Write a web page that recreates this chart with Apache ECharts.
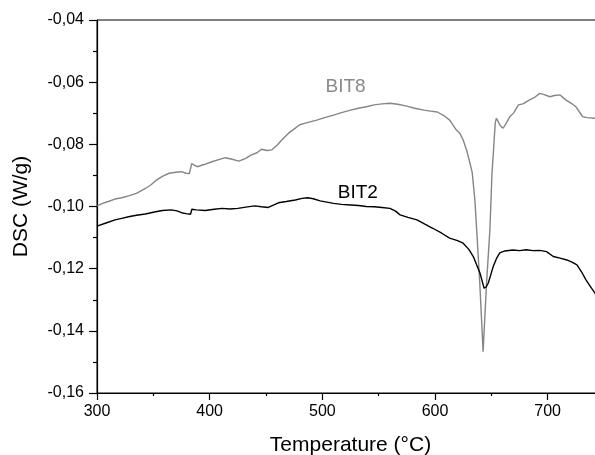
<!DOCTYPE html>
<html>
<head>
<meta charset="utf-8">
<script src="https://cdn.jsdelivr.net/npm/echarts@6/dist/echarts.min.js"></script>
<style>
html,body{margin:0;padding:0;background:#fff;}
#chart{width:595px;height:455px;}
</style>
</head>
<body>
<div id="chart"></div>
<script>
// ---- data ----
const bit8Temp = [300,305,310,316,322,328,335,343,348,352,358,364,370,375,379,382,384,386,389,395,402,408,414,420,426,432,437,442,446,451,455,460,464,470,476,480,485,490,495,502,510,517,525,532,539,546,553,560,567,575,582,590,596,602,608,613,619,622,625,628,631,633,635.4,637,639.8,642.7,645.7,648.7,650.5,652.5,653.5,654.5,656,658,660.4,662,664,666.4,670,674,678,684,688,693,697,702,706,711,716,721,725,729,731,735,742,750];
const bit8Dsc = [-0.0998,-0.0990,-0.0984,-0.0976,-0.0972,-0.0966,-0.0958,-0.0942,-0.0930,-0.0917,-0.0903,-0.0893,-0.0890,-0.0888,-0.0893,-0.0894,-0.0862,-0.0866,-0.0872,-0.0865,-0.0856,-0.0849,-0.0843,-0.0848,-0.0854,-0.0845,-0.0834,-0.0827,-0.0816,-0.0820,-0.0818,-0.0802,-0.0786,-0.0764,-0.0748,-0.0737,-0.0732,-0.0727,-0.0722,-0.0714,-0.0706,-0.0698,-0.0690,-0.0684,-0.0679,-0.0673,-0.0670,-0.0668,-0.0671,-0.0677,-0.0684,-0.0690,-0.0693,-0.0696,-0.0708,-0.0722,-0.0754,-0.0764,-0.0786,-0.0818,-0.0860,-0.0890,-0.0979,-0.1076,-0.1250,-0.1467,-0.1250,-0.1076,-0.0900,-0.0786,-0.0730,-0.0716,-0.0722,-0.0740,-0.0748,-0.0740,-0.0727,-0.0711,-0.0698,-0.0673,-0.0670,-0.0657,-0.0650,-0.0636,-0.0640,-0.0647,-0.0643,-0.0641,-0.0657,-0.0668,-0.0679,-0.0700,-0.0711,-0.0714,-0.0716,-0.0716];

const bit2Temp = [300,308,316,322,328,335,343,348,352,358,366,371,375,379,383,384.2,388,396,404,411,418,425,432,440,446,452,457,461,468,476,482,487,492,498,504,510,517,525,532,539,546,553,560,565,569,576,584,591,598,606,613,620,625,630,634,637,640,643.6,645.5,647.2,649.5,651.6,654.5,657.5,662,669,675,681,687,693,699,705,711,717,722,726,730,734,738,742,750];
const bit2Dsc = [-0.1063,-0.1053,-0.1043,-0.1038,-0.1033,-0.1028,-0.1024,-0.1020,-0.1017,-0.1013,-0.1011,-0.1014,-0.1020,-0.1023,-0.1025,-0.1009,-0.1011,-0.1013,-0.1009,-0.1006,-0.1008,-0.1006,-0.1002,-0.0998,-0.1001,-0.1003,-0.0995,-0.0988,-0.0984,-0.0979,-0.0974,-0.0972,-0.0975,-0.0982,-0.0986,-0.0990,-0.0993,-0.0995,-0.0997,-0.1000,-0.1001,-0.1003,-0.1006,-0.1015,-0.1027,-0.1035,-0.1043,-0.1057,-0.1070,-0.1086,-0.1102,-0.1110,-0.1118,-0.1138,-0.1161,-0.1188,-0.1215,-0.1263,-0.1258,-0.1247,-0.1220,-0.1194,-0.1168,-0.1149,-0.1143,-0.1140,-0.1142,-0.1139,-0.1142,-0.1141,-0.1145,-0.1161,-0.1166,-0.1172,-0.1180,-0.1188,-0.1210,-0.1236,-0.1258,-0.1279,-0.1320];

const seriesNames = ['BIT8', 'BIT2'];
const labelTemp = [520.6, 531.5];
const labelDsc = [-0.0615, -0.0956];

const xMin = 300, xMax = 750, xStep = 100;
const yMin = -0.16, yMax = -0.04, yStep = 0.02;
// ---------------

const FONT = "'Liberation Sans', Arial, sans-serif";
const zip = (a, b) => a.map((t, i) => [t, b[i]]);

const chart = echarts.init(document.getElementById('chart'), null, {renderer: 'canvas'});

function mkLabel(i, color) {
  return {
    symbol: 'circle', symbolSize: 1,
    itemStyle: {color: 'rgba(0,0,0,0)'},
    label: {show: true, position: 'inside', formatter: '{b}', color: color, fontSize: 19, fontFamily: FONT},
    data: [{name: seriesNames[i], coord: [labelTemp[i], labelDsc[i]]}]
  };
}

chart.setOption({
  animation: false,
  backgroundColor: '#fff',
  grid: {left: 97, right: -9, top: 20, bottom: 62, outerBoundsMode: 'none', containLabel: false,
         show: true, borderColor: '#000', borderWidth: 1, backgroundColor: 'transparent'},
  xAxis: {
    type: 'value', min: xMin, max: xMax, interval: xStep,
    name: 'Temperature (°C)', nameLocation: 'middle', nameGap: 42,
    nameTextStyle: {fontSize: 21, fontFamily: FONT, color: '#000'},
    axisLine: {show: true, onZero: false, lineStyle: {color: '#000', width: 1.2}},
    axisTick: {show: true, length: 7, lineStyle: {color: '#000', width: 1.2}},
    minorTick: {show: true, splitNumber: 2, length: 3, lineStyle: {color: '#000', width: 1.2}},
    axisLabel: {fontSize: 16, fontFamily: FONT, color: '#000', margin: 11, showMaxLabel: false},
    splitLine: {show: false}
  },
  yAxis: {
    type: 'value', min: yMin, max: yMax, interval: yStep,
    name: 'DSC (W/g)', nameLocation: 'middle', nameGap: 65,
    nameTextStyle: {fontSize: 21, fontFamily: FONT, color: '#000'},
    axisLine: {show: true, onZero: false, lineStyle: {color: '#000', width: 1.2}},
    axisTick: {show: true, length: 8, lineStyle: {color: '#000', width: 1.2}},
    minorTick: {show: true, splitNumber: 2, length: 4, lineStyle: {color: '#000', width: 1.2}},
    axisLabel: {fontSize: 16, fontFamily: FONT, color: '#000', margin: 13,
      formatter: v => v.toFixed(2).replace('.', ',')},
    splitLine: {show: false}
  },
  series: [
    {name: seriesNames[0], type: 'line', data: zip(bit8Temp, bit8Dsc), showSymbol: false, symbol: 'none',
     lineStyle: {color: '#858585', width: 1.4}, markPoint: mkLabel(0, '#8a8a8a'), z: 2},
    {name: seriesNames[1], type: 'line', data: zip(bit2Temp, bit2Dsc), showSymbol: false, symbol: 'none',
     lineStyle: {color: '#000', width: 1.4}, markPoint: mkLabel(1, '#000'), z: 3}
  ]
});
</script>
</body>
</html>
